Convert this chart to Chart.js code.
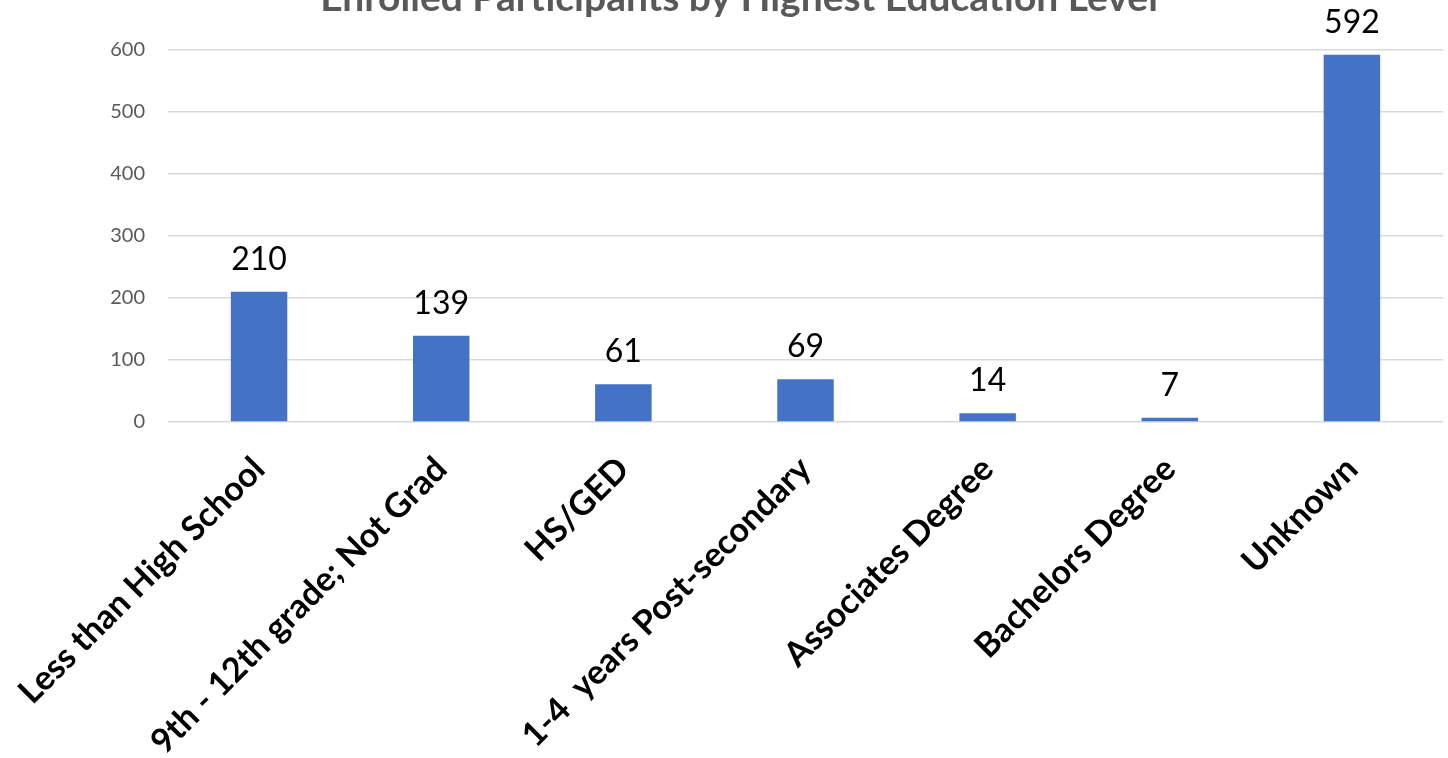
<!DOCTYPE html>
<html>
<head>
<meta charset="utf-8">
<script src="https://cdn.jsdelivr.net/npm/chart.js@4.4.0/dist/chart.umd.min.js"></script>
<style>
  html, body { margin: 0; padding: 0; background: #fff; overflow: hidden; }
  #wrap { position: relative; width: 1448px; height: 783px; margin-top: -25px; }
</style>
</head>
<body>
<div id="wrap"><canvas id="eduChart"></canvas></div>
<script>
const categories = ['Less than High School', '9th - 12th grade; Not Grad', 'HS/GED',
    '1-4  years Post-secondary', 'Associates Degree', 'Bachelors Degree', 'Unknown'];
const participants = [210, 139, 61, 69, 14, 7, 592];
const yTicks = [0, 100, 200, 300, 400, 500, 600];

// labels over each bar, placed from the bar element
const barValueLabels = {
    id: 'barValueLabels',
    afterDatasetsDraw(chart) {
        const ctx = chart.ctx;
        const meta = chart.getDatasetMeta(0);
        ctx.save();
        ctx.font = '32px Lato';
        ctx.fillStyle = '#000';
        ctx.textAlign = 'center';
        ctx.textBaseline = 'alphabetic';
        meta.data.forEach((bar, i) => {
            ctx.fillText(String(participants[i]), bar.x, bar.y - 22);
        });
        ctx.restore();
    }
};

const ctx = document.getElementById('eduChart').getContext('2d');
new Chart(ctx, {
    type: 'bar',
    data: {
        labels: categories,
        datasets: [{
            data: participants,
            backgroundColor: '#4472C4',
            barPercentage: 0.31,
            categoryPercentage: 1
        }]
    },
    options: {
        responsive: true,
        maintainAspectRatio: false,
        animation: false,
        layout: { padding: { left: 35, right: 5, top: 0, bottom: 0 } },
        plugins: {
            legend: { display: false },
            tooltip: { enabled: false },
            title: {
                display: true,
                text: 'Enrolled Participants by Highest Education Level',
                color: '#595959',
                font: { family: 'Lato', size: 39, weight: 'bold' },
                padding: { top: 0, bottom: 28 }
            }
        },
        scales: {
            x: {
                grid: { display: false },
                border: { display: false },
                ticks: {
                    color: '#000',
                    font: { family: 'Lato', size: 34, weight: 'bold' },
                    maxRotation: 45,
                    minRotation: 45,
                    padding: 19,
                    autoSkip: false
                },
                afterFit: scale => {
                    scale.height = 336;
                    scale.paddingLeft = 0;
                    scale.paddingRight = 0;
                }
            },
            y: {
                min: 0,
                max: 600,
                afterBuildTicks: scale => { scale.ticks = yTicks.map(v => ({ value: v })); },
                grid: { color: '#d9d9d9', lineWidth: 1.5, drawTicks: false },
                border: { display: false },
                ticks: {
                    color: '#595959',
                    font: { family: 'Lato', size: 20 },
                    padding: 23
                },
                afterFit: scale => { scale.width = 133; }
            }
        }
    },
    plugins: [barValueLabels]
});
</script>
</body>
</html>
